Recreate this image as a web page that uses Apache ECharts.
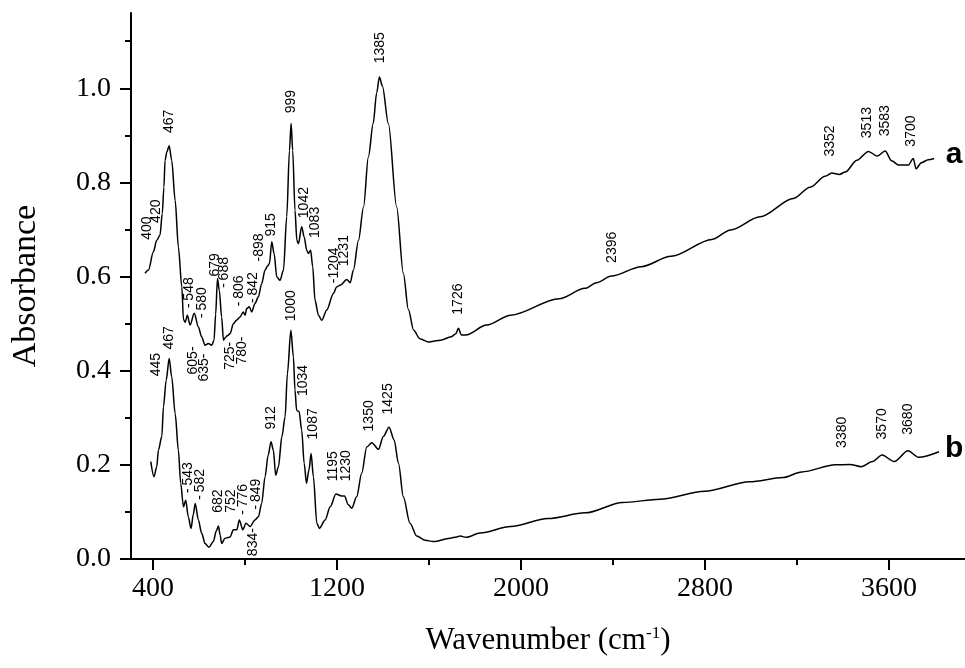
<!DOCTYPE html>
<html>
<head>
<meta charset="utf-8">
<title>FTIR spectra a / b</title>
<script src="https://cdn.jsdelivr.net/npm/echarts@6/dist/echarts.min.js"></script>
<style>
  html, body { margin: 0; padding: 0; background: #fff; }
  #chart { width: 965px; height: 668px; }
</style>
</head>
<body>
<div id="chart"></div>
<script>
// spectrum a: wavenumber (cm-1) and absorbance
const waveA = [365, 380, 401, 416, 430, 440, 447, 452, 460, 470, 481, 496, 510, 525, 532, 540, 549, 561, 579, 597, 611,
  626, 640, 655, 665, 672, 680, 688, 698, 706, 713, 725, 735, 749, 764, 778, 792, 800, 807, 818, 829,
  843, 858, 872, 887, 897, 906, 916, 926, 938, 952, 967, 981, 993, 1000, 1007, 1017, 1025, 1032, 1046, 1057,
  1068, 1075, 1085, 1094, 1104, 1119, 1133, 1155, 1184, 1198, 1215, 1242, 1257, 1271, 1293, 1315, 1336, 1357, 1372, 1384,
  1397, 1423, 1459, 1488, 1510, 1533, 1560, 1598, 1650, 1696, 1715, 1728, 1740, 1760, 1850, 1955, 2165, 2278, 2328, 2393,
  2522, 2652, 2830, 2911, 3039, 3184, 3257, 3322, 3351, 3384, 3409, 3460, 3510, 3549, 3583, 3611, 3641, 3684, 3705, 3717,
  3740, 3770, 3796]
const absA = [0.607, 0.614, 0.652, 0.677, 0.688, 0.734, 0.79, 0.847, 0.865, 0.878, 0.847, 0.762, 0.663, 0.578, 0.509, 0.503, 0.518, 0.497, 0.522, 0.493, 0.472,
  0.454, 0.458, 0.454, 0.465, 0.52, 0.596, 0.571, 0.514, 0.465, 0.470, 0.475, 0.479, 0.500, 0.508, 0.514, 0.525, 0.518, 0.532, 0.536, 0.525,
  0.543, 0.557, 0.585, 0.614, 0.622, 0.628, 0.674, 0.649, 0.599, 0.592, 0.614, 0.727, 0.868, 0.926, 0.868, 0.741, 0.677, 0.670, 0.706, 0.684,
  0.656, 0.649, 0.656, 0.621, 0.550, 0.518, 0.507, 0.529, 0.564, 0.578, 0.582, 0.594, 0.587, 0.614, 0.677, 0.748, 0.854, 0.925, 0.990, 1.024,
  1.005, 0.925, 0.748, 0.607, 0.53, 0.486, 0.468, 0.461, 0.465, 0.472, 0.478, 0.490, 0.476, 0.476, 0.497, 0.518, 0.553, 0.575, 0.587, 0.601,
  0.621, 0.643, 0.679, 0.699, 0.727, 0.766, 0.790, 0.813, 0.820, 0.817, 0.822, 0.847, 0.866, 0.856, 0.867, 0.846, 0.837, 0.837, 0.851, 0.829,
  0.842, 0.848, 0.851]

// spectrum b
const waveB = [390, 404, 416, 423, 438, 445, 457, 470, 481, 496, 510, 520, 532, 542, 553, 565, 575, 583, 597, 611,
  626, 643, 662, 675, 684, 692, 698, 713, 735, 749, 764, 775, 790, 804, 822, 843, 858, 872, 887, 900,
  913, 923, 933, 945, 960, 974, 984, 999, 1010, 1017, 1024, 1035, 1046, 1057, 1067, 1078, 1087, 1097, 1112, 1123,
  1148, 1170, 1195, 1220, 1232, 1249, 1264, 1285, 1307, 1329, 1351, 1380, 1401, 1426, 1448, 1467, 1488, 1517, 1546, 1583,
  1619, 1691, 1720, 1735, 1760, 1822, 1955, 2117, 2279, 2441, 2604, 2798, 2993, 3139, 3220, 3366, 3430, 3479, 3528, 3569,
  3622, 3682, 3728, 3817]
const absB = [0.207, 0.175, 0.196, 0.231, 0.260, 0.323, 0.380, 0.426, 0.387, 0.309, 0.231, 0.161, 0.111, 0.125, 0.090, 0.065, 0.095, 0.118, 0.083, 0.055,
  0.033, 0.025, 0.037, 0.060, 0.070, 0.050, 0.033, 0.044, 0.047, 0.062, 0.062, 0.083, 0.062, 0.076, 0.069, 0.083, 0.090, 0.118, 0.175, 0.220,
  0.249, 0.231, 0.178, 0.196, 0.260, 0.302, 0.394, 0.486, 0.430, 0.359, 0.316, 0.313, 0.274, 0.203, 0.161, 0.190, 0.224, 0.175, 0.076, 0.065,
  0.083, 0.111, 0.138, 0.134, 0.134, 0.115, 0.108, 0.132, 0.182, 0.238, 0.247, 0.233, 0.260, 0.280, 0.253, 0.203, 0.132, 0.076, 0.049, 0.040,
  0.037, 0.044, 0.047, 0.049, 0.046, 0.055, 0.069, 0.086, 0.098, 0.120, 0.127, 0.144, 0.164, 0.173, 0.185, 0.200, 0.201, 0.196, 0.207, 0.221,
  0.207, 0.230, 0.216, 0.228]

// peak labels: foot of the (vertical) text in data units, and the text
const peakWaveA = [375, 416, 474, 561, 614, 670, 713, 778, 836, 865, 916, 1003, 1057, 1107, 1191, 1235, 1390,
  575, 625, 739, 791, 1729, 2399, 3346, 3506, 3583, 3697]
const peakAbsA = [0.677, 0.713, 0.904, 0.532, 0.511, 0.599, 0.575, 0.536, 0.543, 0.631, 0.684, 0.946, 0.723, 0.681, 0.585, 0.621, 1.052,
  0.391, 0.376, 0.401, 0.412, 0.518, 0.628, 0.854, 0.893, 0.897, 0.875]
const peakTextA = ['400', '420', '467', '-\u2009548', '-\u2009580', '679', '-\u2009688', '-\u2009806', '-\u2009842', '-898', '915', '999', '1042', '1083', '-1204', '1231', '1385',
  '605-', '635-', '725-', '780-', '1726', '2396', '3352', '3513', '3583', '3700']

const peakWaveB = [416, 474, 553, 607, 684, 742, 794, 851, 836, 916, 1001, 1055, 1099, 1184, 1242, 1343, 1426, 3400, 3570, 3686]
const peakAbsB = [0.387, 0.444, 0.139, 0.125, 0.097, 0.097, 0.093, 0.104, 0.005, 0.274, 0.504, 0.345, 0.253, 0.164, 0.164, 0.270, 0.306, 0.235, 0.253, 0.263]
const peakTextB = ['445', '467', '-\u2009543', '-\u2009582', '682', '752', '-\u2009776', '-\u2009849', '834-', '912', '1000', '1034', '1087', '1195', '1230', '1350', '1425', '3380', '3570', '3680']

// curve tags at the right-hand end
const tagText = ['a', 'b']
const tagWave = [3885, 3885]
const tagAbs = [0.857, 0.2335]

// axis ticks
const xLabelTicks = [400, 1200, 2000, 2800, 3600]
const xShortTicks = [800, 1600, 2400, 3200]
const yLabelTicks = [0, 0.2, 0.4, 0.6, 0.8, 1.0]
const yShortTicks = [0.1, 0.3, 0.5, 0.7, 0.9, 1.1]

const chart = echarts.init(document.getElementById('chart'))

const pairs = (xs, ys) => xs.map((x, i) => [x, ys[i]])
const peakData = (xs, ys, txt) => xs.map((x, i) => ({ value: [x, ys[i]], name: txt[i] }))

const serif = 'Liberation Serif'
const sans = 'Liberation Sans'
const X_MIN = 304
const X_MAX = 3930

const spectrum = (data) => ({
  type: 'line',
  data: data,
  symbol: 'none',
  smooth: 0.3,
  smoothMonotone: 'x',
  lineStyle: { color: '#000', width: 1.5 },
  silent: true,
  z: 3,
})

// invisible points that only carry a text label
const textMarks = (data, label) => ({
  type: 'scatter',
  data: data,
  symbolSize: 1,
  itemStyle: { color: '#fff', opacity: 0 },
  silent: true,
  label: Object.assign({ show: true, formatter: '{b}', position: [0, 0], color: '#000', opacity: 1, textBorderWidth: 0 }, label),
  z: 4,
})

const option = {
  animation: false,
  backgroundColor: '#fff',
  grid: { left: 131, right: 0, top: 13, bottom: 109, containLabel: false },
  xAxis: [
    {
      type: 'value',
      position: 'bottom',
      min: X_MIN,
      max: X_MAX,
      axisLine: { lineStyle: { color: '#000', width: 2 } },
      axisTick: { show: true, inside: false, length: 11, lineStyle: { color: '#000', width: 2 }, customValues: xLabelTicks },
      axisLabel: { customValues: xLabelTicks, margin: 16, fontFamily: serif, fontSize: 28, color: '#000', formatter: (v) => String(v) },
      splitLine: { show: false },
      name: '{n|Wavenumber (cm}{s|-1}{n|)}',
      nameLocation: 'middle',
      nameGap: 66,
      nameTextStyle: {
        rich: {
          n: { fontFamily: serif, fontSize: 31, color: '#000' },
          s: { fontFamily: serif, fontSize: 17, color: '#000', verticalAlign: 'top' },
        },
      },
    },
    {
      type: 'value',
      position: 'bottom',
      min: X_MIN,
      max: X_MAX,
      axisLine: { show: false },
      axisTick: { show: true, inside: false, length: 6, lineStyle: { color: '#000', width: 2 }, customValues: xShortTicks },
      axisLabel: { show: false },
      splitLine: { show: false },
    },
  ],
  yAxis: [
    {
      type: 'value',
      position: 'left',
      min: 0,
      max: 1.16,
      axisLine: { show: true, lineStyle: { color: '#000', width: 2 } },
      axisTick: { show: true, inside: false, length: 11, lineStyle: { color: '#000', width: 2 }, customValues: yLabelTicks },
      axisLabel: { customValues: yLabelTicks, margin: 20, fontFamily: serif, fontSize: 28, color: '#000', formatter: (v) => v.toFixed(1) },
      splitLine: { show: false },
      name: 'Absorbance',
      nameLocation: 'middle',
      nameGap: 88,
      nameTextStyle: { fontFamily: serif, fontSize: 34, color: '#000' },
    },
    {
      type: 'value',
      position: 'left',
      min: 0,
      max: 1.16,
      axisLine: { show: false },
      axisTick: { show: true, inside: false, length: 6, lineStyle: { color: '#000', width: 2 }, customValues: yShortTicks },
      axisLabel: { show: false },
      splitLine: { show: false },
    },
  ],
  series: [
    spectrum(pairs(waveA, absA)),
    spectrum(pairs(waveB, absB)),
    textMarks(peakData(peakWaveA, peakAbsA, peakTextA), { rotate: 90, align: 'left', verticalAlign: 'middle', fontFamily: sans, fontSize: 14 }),
    textMarks(peakData(peakWaveB, peakAbsB, peakTextB), { rotate: 90, align: 'left', verticalAlign: 'middle', fontFamily: sans, fontSize: 14 }),
    textMarks(peakData(tagWave, tagAbs, tagText), { align: 'center', verticalAlign: 'middle', fontFamily: sans, fontWeight: 'bold', fontSize: 30 }),
  ],
}

chart.setOption(option)
window.addEventListener('resize', () => {
  chart.resize()
})
</script>
</body>
</html>
